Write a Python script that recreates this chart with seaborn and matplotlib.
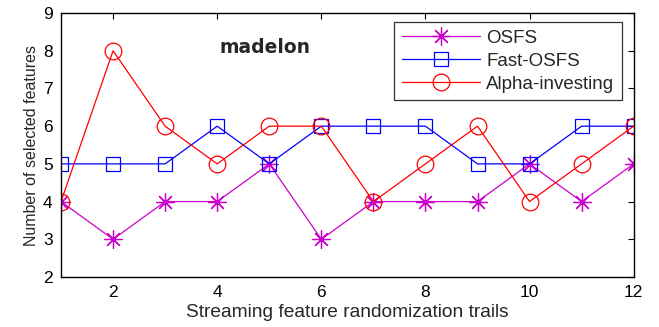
import matplotlib
matplotlib.use("Agg")
import matplotlib.pyplot as plt
import seaborn as sns
import pandas as pd

trails = [1, 2, 3, 4, 5, 6, 7, 8, 9, 10, 11, 12]
osfs = [4, 3, 4, 4, 5, 3, 4, 4, 4, 5, 4, 5]
fast_osfs = [5, 5, 5, 6, 5, 6, 6, 6, 5, 5, 6, 6]
alpha_investing = [4, 8, 6, 5, 6, 6, 4, 5, 6, 4, 5, 6]
series_names = ["OSFS", "Fast-OSFS", "Alpha-investing"]
x_ticks = [2, 4, 6, 8, 10, 12]
y_ticks = [2, 3, 4, 5, 6, 7, 8, 9]

sns.set_theme(style="white")
plt.rcParams['font.family'] = ['Liberation Sans', 'DejaVu Sans']

fig = plt.figure(figsize=(6.59, 3.27), dpi=100)
ax = fig.add_axes([0.0926, 0.153, 0.869, 0.807])

colors = ["#cc00cc", "#0000ff", "#ff0000"]
markers = [(8, 2, 0), "s", "o"]
msizes = [13, 10.5, 12]
for name, vals, c, m, ms in zip(series_names, [osfs, fast_osfs, alpha_investing], colors, markers, msizes):
    df = pd.DataFrame({"x": trails, "y": vals})
    sns.lineplot(data=df, x="x", y="y", ax=ax, label=name, linewidth=0.9, color=c,
                 marker=m, markersize=ms, markerfacecolor="none", markeredgecolor=c,
                 markeredgewidth=0.9)

ax.set_xlim(1, 12)
ax.set_ylim(2, 9)
ax.set_xticks(x_ticks)
ax.set_yticks(y_ticks)
ax.tick_params(direction="in", length=4, width=0.8, top=True, right=True,
               labelsize=12.5, pad=6, colors="black")
for s in ax.spines.values():
    s.set_visible(True)
    s.set_color("black")
    s.set_linewidth(1.0)

ax.set_xlabel("Streaming feature randomization trails", fontsize=13.8, labelpad=3)
ax.set_ylabel("Number of selected features", fontsize=11.5, labelpad=3)

ax.text(4.92, 8.1, "madelon", fontsize=13.5, fontweight="bold", ha="center", va="center",
        family="DejaVu Sans")

leg = ax.legend(loc="upper right", bbox_to_anchor=(0.979, 0.966), borderaxespad=0,
                fontsize=13.5, frameon=True, fancybox=False, edgecolor="black",
                handlelength=4.2, labelspacing=0.31, borderpad=0.4, handletextpad=0.3)
leg.get_frame().set_linewidth(0.9)

fig.savefig("out.png", dpi=100)
